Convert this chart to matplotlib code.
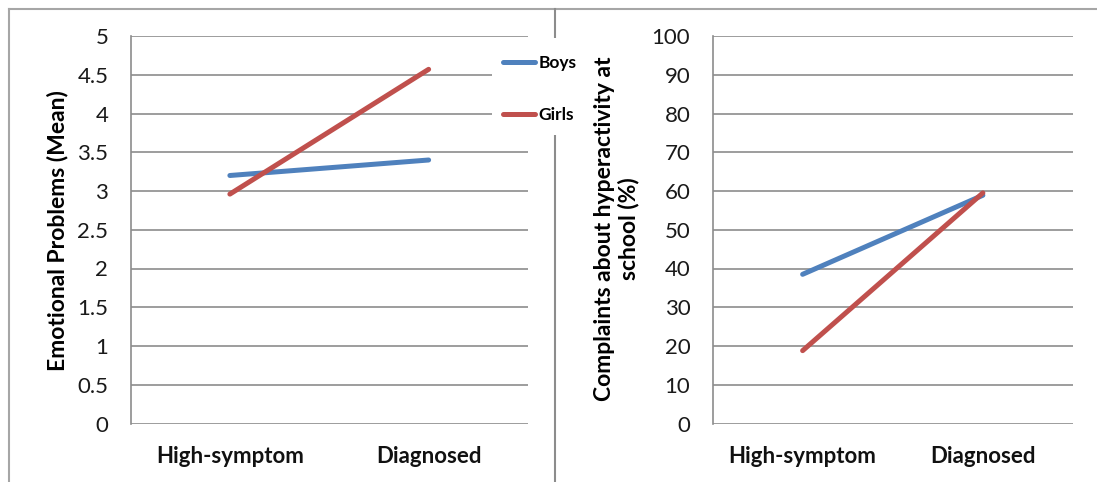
import matplotlib
matplotlib.use('Agg')
import matplotlib.pyplot as plt
from matplotlib.patches import Rectangle
from matplotlib.lines import Line2D

# data
groups = ['High-symptom', 'Diagnosed']
series = ['Boys', 'Girls']
emotional_boys = [3.20, 3.40]
emotional_girls = [2.96, 4.57]
complaints_boys = [38.5, 58.9]
complaints_girls = [18.8, 59.5]

colors = {'Boys': '#4F81BD', 'Girls': '#C0504D'}
grid_color = '#8c8c8c'

plt.rcParams['font.family'] = ['Lato', 'DejaVu Sans']

W, H = 1097, 482
fig = plt.figure(figsize=(W / 100, H / 100), dpi=100)


def px_axes(x0, x1, y_top, y_bot):
    return fig.add_axes([x0 / W, 1 - y_bot / H, (x1 - x0) / W, (y_bot - y_top) / H])


def style_axis(ax, ymax, step):
    ax.set_xlim(-0.5, 1.5)
    ax.set_ylim(0, ymax)
    ticks = [i * step for i in range(int(round(ymax / step)) + 1)]
    ax.set_yticks(ticks)
    ax.set_yticklabels(['%g' % t for t in ticks])
    ax.set_xticks(range(len(groups)))
    ax.set_xticklabels(groups, fontweight='bold')
    for s in ['top', 'right', 'bottom']:
        ax.spines[s].set_visible(False)
    ax.spines['left'].set_color(grid_color)
    ax.spines['left'].set_linewidth(1.2)
    ax.grid(axis='y', color=grid_color, linewidth=1.2)
    ax.set_axisbelow(True)
    ax.tick_params(axis='y', length=0, pad=16, labelsize=16, colors='#1a1a1a')
    ax.tick_params(axis='x', length=0, pad=16, labelsize=16, colors='#111111')


ax1 = px_axes(130.5, 528, 36, 423.5)
ax2 = px_axes(712.5, 1073, 36, 423.5)

x = list(range(len(groups)))
ax1.plot(x, emotional_boys, color=colors['Boys'], lw=3.6, solid_capstyle='round', label='Boys')
ax1.plot(x, emotional_girls, color=colors['Girls'], lw=3.6, solid_capstyle='round', label='Girls')
style_axis(ax1, 5, 0.5)

ax2.plot(x, complaints_boys, color=colors['Boys'], lw=3.6, solid_capstyle='round')
ax2.plot(x, complaints_girls, color=colors['Girls'], lw=3.6, solid_capstyle='round')
style_axis(ax2, 100, 10)

fig.text(57 / W, 1 - 231 / H, 'Emotional Problems (Mean)', rotation=90,
         ha='center', va='center', fontsize=16.5, fontweight='bold')
fig.text(617 / W, 1 - 229 / H, 'Complaints about hyperactivity at\nschool (%)', rotation=90,
         ha='center', va='center', fontsize=16.5, fontweight='bold', linespacing=1.15,
         multialignment='center')

# outer frame and separator
fig.add_artist(Line2D([9 / W, 9 / W], [0, 1 - 9 / H], color='#a6a6a6', lw=1.5))
fig.add_artist(Line2D([9 / W, 1], [1 - 9 / H, 1 - 9 / H], color='#a6a6a6', lw=1.5))
fig.add_artist(Line2D([555 / W, 555 / W], [0, 1 - 9 / H], color='#8c8c8c', lw=1.5))

# white legend area
fig.add_artist(Rectangle((492 / W, 1 - 135 / H), 96 / W, 97 / H, transform=fig.transFigure,
                         facecolor='white', edgecolor='none', zorder=4))
handles, labels = ax1.get_legend_handles_labels()
fig.legend(handles, labels, loc='center', bbox_to_anchor=(540 / W, 1 - 89 / H),
           frameon=False, prop={'weight': 'bold', 'size': 12.5},
           handlelength=1.85, handletextpad=0.2, labelspacing=2.1)

fig.savefig('out.png', dpi=100)
